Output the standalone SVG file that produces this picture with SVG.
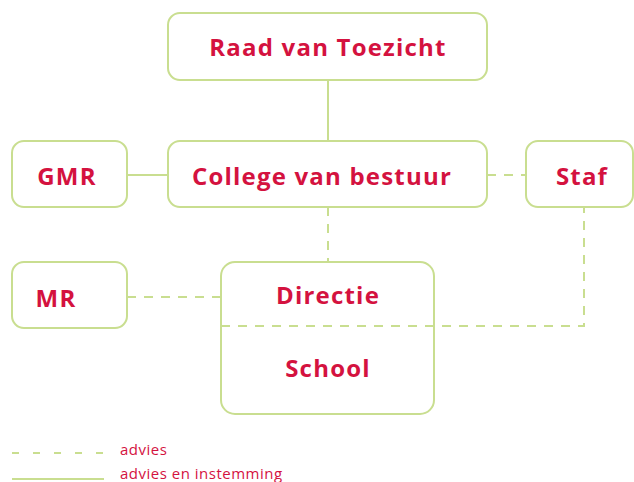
<svg xmlns="http://www.w3.org/2000/svg" width="634" height="482" viewBox="0 0 634 482">
  <style>
    .box { fill: #ffffff; stroke: #c9de90; stroke-width: 2; }
    .solid { fill: none; stroke: #c9de90; stroke-width: 2; }
    .dash { fill: none; stroke: #c9de90; stroke-width: 2; stroke-dasharray: 9 8; }
    .lbl { font-family: "Open Sans", "Liberation Sans", sans-serif; font-weight: 700; font-size: 24px; letter-spacing: 1.2px; fill: #d4123f; text-anchor: middle; dominant-baseline: central; }
    .leg { font-family: "Open Sans", "Liberation Sans", sans-serif; font-size: 15px; letter-spacing: 0.5px; fill: #d4123f; }
  </style>

  <!-- connectors -->
  <g id="connectors">
    <line class="solid" x1="328" y1="80" x2="328" y2="141"/>
    <line class="solid" x1="127" y1="175" x2="168" y2="175"/>
    <line class="dash" x1="487" y1="175" x2="526" y2="175"/>
    <line class="dash" x1="328" y1="207" x2="328" y2="262"/>
    <line class="dash" x1="127" y1="297" x2="221" y2="297"/>
    <polyline class="dash" points="221,326 584,326 584,207"/>
  </g>

  <g id="raad">
    <rect class="box" x="168" y="13" width="319" height="67" rx="12"/>
    <text class="lbl" x="328" y="46">Raad van Toezicht</text>
  </g>
  <g id="gmr">
    <rect class="box" x="12" y="141" width="115" height="66" rx="12"/>
    <text class="lbl" x="67" y="175">GMR</text>
  </g>
  <g id="college">
    <rect class="box" x="168" y="141" width="319" height="66" rx="12"/>
    <text class="lbl" x="322" y="175">College van bestuur</text>
  </g>
  <g id="staf">
    <rect class="box" x="526" y="141" width="107" height="66" rx="12"/>
    <text class="lbl" x="582" y="175">Staf</text>
  </g>
  <g id="mr">
    <rect class="box" x="12" y="262" width="115" height="66" rx="12"/>
    <text class="lbl" x="56" y="297">MR</text>
  </g>
  <g id="directie-school">
    <rect class="box" x="221" y="262" width="213" height="152" rx="14"/>
    <line class="dash" x1="221" y1="326" x2="434" y2="326"/>
    <text class="lbl" x="328" y="294">Directie</text>
    <text class="lbl" x="328" y="367">School</text>
  </g>

  <!-- legend -->
  <g id="legend">
    <line class="dash" x1="12" y1="453" x2="105" y2="453" style="stroke-dasharray: 7 14"/>
    <text class="leg" x="120" y="455">advies</text>
    <line class="solid" x1="12" y1="479" x2="104" y2="479"/>
    <text class="leg" x="120" y="479">advies en instemming</text>
  </g>
</svg>
